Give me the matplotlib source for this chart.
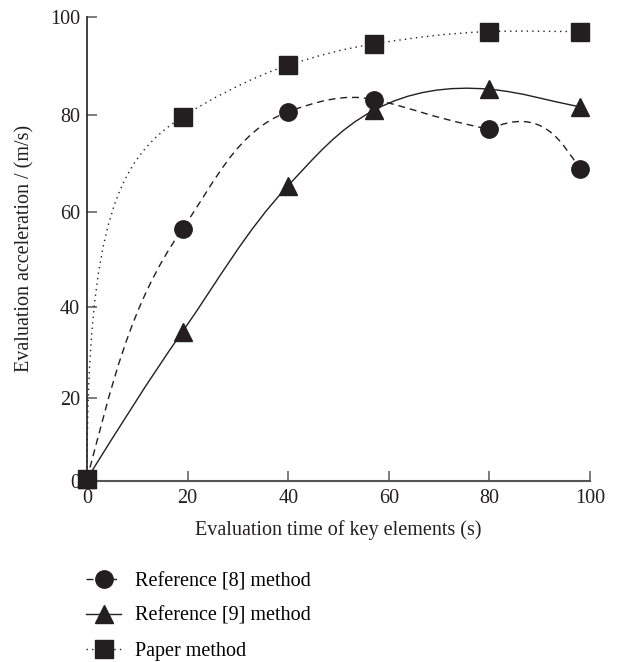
import numpy as np
import matplotlib
matplotlib.use('Agg')
import matplotlib.pyplot as plt
from matplotlib.path import Path
from matplotlib.patches import PathPatch
from matplotlib.lines import Line2D

# values
time_s = [0, 19, 40, 57, 80, 98]
ref8 = [0.5, 56.5, 80.7, 83.2, 77.1, 69.0]
ref9 = [0.5, 34.6, 65.5, 81.0, 85.3, 81.7]
paper = [0.5, 79.7, 90.2, 94.5, 97.0, 97.0]
labels = ['Reference [8] method', 'Reference [9] method', 'Paper method']
xticks = [0, 20, 40, 60, 80, 100]
yticks = [0, 20, 40, 60, 80, 100]

# shape of the smoothed lines: screen angle (deg) at each marker
# (a pair means in/out angle), and handle size as part of the chord
ref8_angle = [75, 55, 20, -12, (-12, 25), -55]
ref8_handle = [0.35, 0.35, 0.35, 0.35, 0.6, 0.3]
ref9_angle = [58, 55, 47, 28, -5, -11]
paper_angle = [90, 33, 18, 9, 2, 0]
paper_handle = [0.7, 0.2, 0.35, 0.35, 0.35, 0.35]

ink = '#231f20'
fs = 14.5
plt.rcParams['font.family'] = ['Liberation Serif', 'DejaVu Serif']
plt.rcParams['font.size'] = fs

fig = plt.figure(figsize=(6.19, 6.62), dpi=100)
ax = fig.add_axes([87 / 619, 1 - 480.5 / 662, 503 / 619, 463.8 / 662])

# the y axis of the original is slightly stretched at the top
p = 1.07
ax.set_yscale('function', functions=(lambda v: np.sign(v) * np.abs(v) ** p,
                                     lambda v: np.sign(v) * np.abs(v) ** (1 / p)))
ax.set_xlim(0, 100)
ax.set_ylim(0, 100)
ax.set_xticks(xticks)
ax.set_yticks(yticks)
ax.set_xticklabels([str(t) for t in xticks])
ax.set_yticklabels([str(t) for t in yticks])


def unit(a):
    return np.array([np.cos(np.radians(a)), np.sin(np.radians(a))])


def smooth_path(xs, ys, angles, handles=None):
    pts = ax.transData.transform(np.column_stack([xs, ys]))
    n = len(pts)
    if handles is None:
        handles = [0.35] * n
    a_in = [a[0] if isinstance(a, tuple) else a for a in angles]
    a_out = [a[1] if isinstance(a, tuple) else a for a in angles]
    verts = [pts[0]]
    codes = [Path.MOVETO]
    for i in range(n - 1):
        L = np.hypot(*(pts[i + 1] - pts[i]))
        verts += [pts[i] + unit(a_out[i]) * L * handles[i],
                  pts[i + 1] - unit(a_in[i + 1]) * L * handles[i + 1],
                  pts[i + 1]]
        codes += [Path.CURVE4] * 3
    verts = ax.transData.inverted().transform(np.array(verts))
    return Path(verts, codes)


series = [
    (ref8, ref8_angle, ref8_handle, (0, (5, 3.5)), 'o', 12.5),
    (ref9, ref9_angle, None, '-', '^', 13),
    (paper, paper_angle, paper_handle, (0, (1, 3)), 's', 13),
]

handles = []
for ys, ang, hnd, ls, mk, ms in series:
    path = smooth_path(time_s, ys, ang, hnd)
    ax.add_patch(PathPatch(path, fill=False, edgecolor=ink, lw=1.0, linestyle=ls,
                           clip_on=False, zorder=2))
    ax.plot(time_s, ys, ls='none', marker=mk, ms=ms, color=ink, mec=ink,
            clip_on=False, zorder=3)
    handles.append(Line2D([], [], color=ink, lw=1.0, ls=ls, marker=mk,
                          ms=ms, mec=ink))

for side in ['top', 'right']:
    ax.spines[side].set_visible(False)
ax.spines['left'].set_color(ink)
ax.spines['left'].set_linewidth(1.2)
ax.spines['bottom'].set_color('#555555')
ax.spines['bottom'].set_linewidth(1.5)
ax.tick_params(direction='in', length=7.5, width=1.2, color='#666666',
               labelcolor=ink, labelsize=fs)
ax.tick_params(axis='y', pad=5)
ax.tick_params(axis='x', pad=6)

ax.set_xlabel('Evaluation time of key elements (s)', fontsize=fs, color=ink, labelpad=9)
ax.set_ylabel('Evaluation acceleration / (m/s)', fontsize=fs, color=ink, labelpad=11)

fig.legend(handles, labels, loc='upper left', bbox_to_anchor=(86 / 619, 1 - 572 / 662),
           frameon=False, handlelength=1.75, handletextpad=0.7, labelspacing=0.78,
           fontsize=fs, borderaxespad=0, borderpad=0)

fig.savefig('out.png', dpi=100)
